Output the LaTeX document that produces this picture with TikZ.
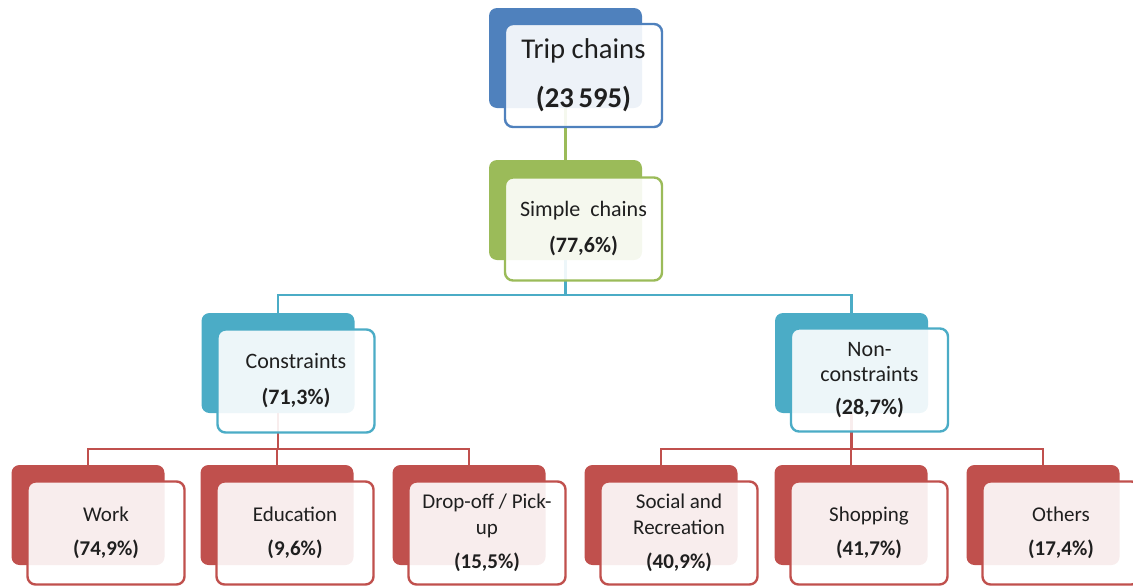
\documentclass[tikz,border=0pt]{standalone}
\usepackage{fontspec}
\setmainfont{Carlito}
\usetikzlibrary{backgrounds}
\definecolor{cBlue}{HTML}{4F81BD}
\definecolor{cGreen}{HTML}{9BBB59}
\definecolor{cAqua}{HTML}{4BACC6}
\definecolor{cRed}{HTML}{C0504D}
\definecolor{txt}{HTML}{1F1F1F}
\tikzset{
 backbox/.style={rectangle, rounded corners=6pt, fill=#1, draw=none, minimum width=114.75pt, minimum height=75pt, inner sep=0pt},
 frontbox/.style={rectangle, rounded corners=6pt, draw=#1, line width=1.8pt, fill=white, fill opacity=0.9, draw opacity=1, text opacity=1, minimum width=117.75pt, minimum height=77.25pt, align=center, inner sep=2pt, text=txt},
 conn/.style={draw=#1, line width=1.8pt},
 toptext/.style={font=\fontsize{21.5}{25.8}\selectfont},
 midtext/.style={font=\fontsize{16.5}{19}\selectfont},
 lowtext/.style={font=\fontsize{15.75}{18.9}\selectfont},
}
\begin{document}
\begin{tikzpicture}[x=0.75pt,y=-0.75pt]
\useasboundingbox (0,0) rectangle (1133,586);
% level 0
\node[backbox=cBlue] (tB) at (565.5,58) {};
\node[frontbox=cBlue, toptext] (t) at (583.5,75.5) {Trip chains\\[11pt]\textbf{(23\,595)}};
% level 1
\node[backbox=cGreen] (sB) at (565.5,210) {};
\node[frontbox=cGreen, midtext] (s) at (583.5,229) {Simple\ \ chains\\[8pt]\textbf{(77,6\%)}};
% level 2
\node[backbox=cAqua] (cB) at (278,363) {};
\node[frontbox=cAqua, midtext] (c) at (296,381) {Constraints\\[8pt]\textbf{(71,3\%)}};
\node[backbox=cAqua] (nB) at (851.5,363) {};
\node[frontbox=cAqua, midtext] (n) at (869.5,380) {Non-\\constraints\\[5.5pt]\textbf{(28,7\%)}};
% level 3
\node[backbox=cRed] (wB) at (88,515) {};
\node[frontbox=cRed, lowtext] (w) at (106,533) {Work\\[7pt]\textbf{(74,9\%)}};
\node[backbox=cRed] (eB) at (277,515) {};
\node[frontbox=cRed, lowtext] (e) at (295,533) {Education\\[7pt]\textbf{(9,6\%)}};
\node[backbox=cRed] (pB) at (469,515) {};
\node[frontbox=cRed, lowtext] (p) at (487,533) {Drop-off / Pick-\\up\\[7pt]\textbf{(15,5\%)}};
\node[backbox=cRed] (rB) at (661,515) {};
\node[frontbox=cRed, lowtext] (r) at (679,533) {Social and\\Recreation\\[7pt]\textbf{(40,9\%)}};
\node[backbox=cRed] (hB) at (851,515) {};
\node[frontbox=cRed, lowtext] (h) at (869,533) {Shopping\\[7pt]\textbf{(41,7\%)}};
\node[backbox=cRed] (oB) at (1043,515) {};
\node[frontbox=cRed, lowtext] (o) at (1061,533) {Others\\[7pt]\textbf{(17,4\%)}};
% connectors
\begin{pgfonlayer}{background}
\coordinate (j1) at (565.5,295);
\coordinate (j2) at (278,449);
\coordinate (j3) at (851.5,449);
\draw[conn=cGreen] (tB.center) -- (sB.north);
\draw[conn=cAqua] (sB.center) -- (j1) -| (cB.north);
\draw[conn=cAqua] (j1) -| (nB.north);
\draw[conn=cRed] (cB.center) -- (j2) -| (wB.north);
\draw[conn=cRed] (j2) -| (eB.north);
\draw[conn=cRed] (j2) -| (pB.north);
\draw[conn=cRed] (nB.center) -- (j3) -| (rB.north);
\draw[conn=cRed] (j3) -| (hB.north);
\draw[conn=cRed] (j3) -| (oB.north);
\end{pgfonlayer}
\end{tikzpicture}
\end{document}
